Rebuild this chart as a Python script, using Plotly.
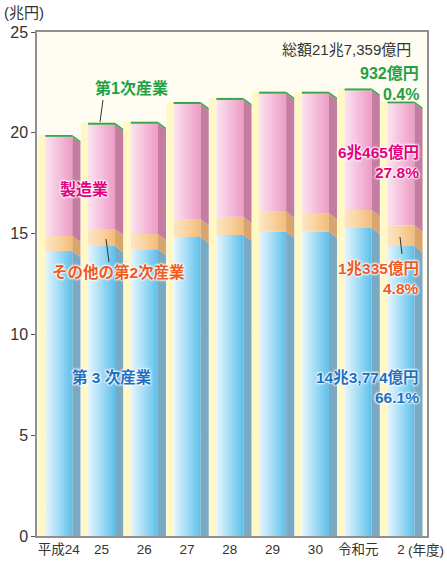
import plotly.graph_objects as go

# ---------------- data (兆円) ----------------
years = ["平成24", "25", "26", "27", "28", "29", "30", "令和元", "2"]
years_western = ["2012", "", "2014", "", "2016", "", "2018", "", "2020"]
tertiary = [14.14, 14.38, 14.22, 14.83, 14.93, 15.10, 15.10, 15.28, 14.38]
other_secondary = [0.74, 0.85, 0.76, 0.89, 0.91, 0.99, 0.92, 0.89, 1.03]
manufacturing = [4.92, 5.17, 5.47, 5.71, 5.79, 5.85, 5.92, 5.93, 6.05]
primary = [0.09, 0.10, 0.10, 0.10, 0.10, 0.10, 0.10, 0.10, 0.09]
y_ticks = [0, 5, 10, 15, 20, 25]

# ---------------- styles ----------------
FONT = "Liberation Sans, Noto Sans CJK JP, sans-serif"
front_half = 0.316      # half width of bar front face (x units)
side_w = 0.19           # width of the receding side face
slant = 0.30            # vertical drop of side face (y units)
stripe_w = 0.165        # pale stripe left of each bar

series = [
    ("第3次産業", tertiary, [[0, "#e6f5fd"], [0.45, "#aadff6"], [1, "#5cbfeb"]], "#79a9c3"),
    ("その他の第2次産業", other_secondary, [[0, "#fde6c6"], [0.5, "#f9d3a0"], [1, "#f3bb7a"]], "#d7a56d"),
    ("製造業", manufacturing, [[0, "#fbe4f0"], [0.5, "#f5bfdb"], [1, "#ed9bc5"]], "#c47ca1"),
    ("第1次産業", primary, [[0, "#37a548"], [1, "#37a548"]], "#37a548"),
]

fig = go.Figure()

n = len(years)
totals = [sum(s[1][i] for s in series) for i in range(n)]

# pale stripes to the left of each bar
for i in range(n):
    x0 = i - front_half - stripe_w
    x1 = i - front_half
    fig.add_trace(go.Scatter(
        x=[x0, x1, x1, x0, x0], y=[0, 0, totals[i], totals[i], 0],
        mode="lines", line=dict(width=0), fill="toself", fillcolor="#fff7c4",
        hoverinfo="skip", showlegend=False))

for i in range(n):
    base = 0.0
    for name, vals, cscale, side_col in series:
        top = base + vals[i]
        xl = i - front_half
        xr = i + front_half
        # front face with horizontal gradient
        fig.add_trace(go.Scatter(
            x=[xl, xr, xr, xl, xl], y=[base, base, top, top, base],
            mode="lines", line=dict(width=0), fill="toself",
            fillgradient=dict(type="horizontal", colorscale=cscale),
            name=name, hoverinfo="skip", showlegend=False))
        # side face
        xs = xr + side_w
        fig.add_trace(go.Scatter(
            x=[xr, xs, xs, xr, xr],
            y=[base, max(base - slant, 0), top - slant, top, base],
            mode="lines", line=dict(width=0), fill="toself", fillcolor=side_col,
            hoverinfo="skip", showlegend=False))
        base = top

# ---------------- layout ----------------
W, H = 447, 563
L, T, R, B = 37, 32, 20, 27
pw, ph = W - L - R, H - T - B


def px(x):
    return (x - L) / pw


def py(y):
    return (H - B - y) / ph


halo = "0 0 2px white, 0 0 2px white, 0 0 3px white, 0 0 3px white"
ann = []


def add_text(text, x, y, color, anchor="left", size=15.5, shadow=halo, weight="bold"):
    ann.append(dict(text=text, x=px(x), y=py(y), xref="paper", yref="paper",
                    xanchor=anchor, yanchor="middle", showarrow=False,
                    font=dict(family=FONT, size=size, color=color, shadow=shadow,
                              weight=weight)))


GREEN, MAG, ORG, BLUE = "#22a143", "#e5007f", "#f05a1e", "#1b72c2"
add_text("(兆円)", 2, 13, "#333333", size=15, shadow="none", weight="normal")
add_text("総額21兆7,359億円", 413, 50, "#333333", anchor="right", size=15, shadow="none", weight="normal")
add_text("932億円", 421, 73, GREEN, anchor="right", size=16, shadow="none")
add_text("0.4%", 421, 94, GREEN, anchor="right", size=16, shadow="none")
add_text("第1次産業", 93, 88, GREEN, size=16, shadow="none")
add_text("製造業", 58, 189, MAG, size=16)
add_text("6兆465億円", 421, 152, MAG, anchor="right")
add_text("27.8%", 421, 172, MAG, anchor="right")
add_text("その他の第2次産業", 50, 272, ORG)
add_text("1兆335億円", 421, 268, ORG, anchor="right")
add_text("4.8%", 421, 288, ORG, anchor="right")
add_text("第 3 次産業", 70, 377, BLUE)
add_text("14兆3,774億円", 421, 377, BLUE, anchor="right")
add_text("66.1%", 421, 397, BLUE, anchor="right")
add_text("(年度)", 446, 550, "#333333", anchor="right", size=13.5, shadow="none", weight="normal")

shapes = []
for (x0, y0, x1, y1) in [(103, 100, 100, 122), (106, 239, 109, 262), (400, 237, 402, 254)]:
    shapes.append(dict(type="line", xref="paper", yref="paper",
                       x0=px(x0), y0=py(y0), x1=px(x1), y1=py(y1),
                       line=dict(color="#333333", width=1)))

ticktext = [f"{a}<br>{b}" if b else a for a, b in zip(years, years_western)]

fig.update_layout(
    width=W, height=H,
    margin=dict(l=L, r=R, t=T, b=B, autoexpand=False),
    paper_bgcolor="white", plot_bgcolor="#fffdf2",
    font=dict(family=FONT, color="#333333"),
    annotations=ann, shapes=shapes,
    showlegend=False,
)
fig.update_xaxes(
    range=[-0.51, 8.61], tickvals=list(range(n)), ticktext=ticktext,
    showgrid=False, zeroline=False, ticks="", automargin=False,
    tickfont=dict(size=13.5, color="#333333"),
    showline=True, linecolor="#8f8f8f", linewidth=1.5, mirror=True,
)
fig.update_yaxes(
    range=[0, 25], tickvals=y_ticks, showgrid=True, automargin=False,
    gridcolor="rgba(255,255,255,0.95)", gridwidth=1.5, zeroline=False,
    ticks="outside", ticklen=4, tickcolor="#555555", tickwidth=1,
    tickfont=dict(size=16, color="#333333"),
    showline=True, linecolor="#8f8f8f", linewidth=1.5, mirror=True,
    layer="above traces",
)

fig.write_html("out.html", config={"displayModeBar": False},
               post_script="document.body.style.margin='0';document.body.style.overflow='hidden';")
